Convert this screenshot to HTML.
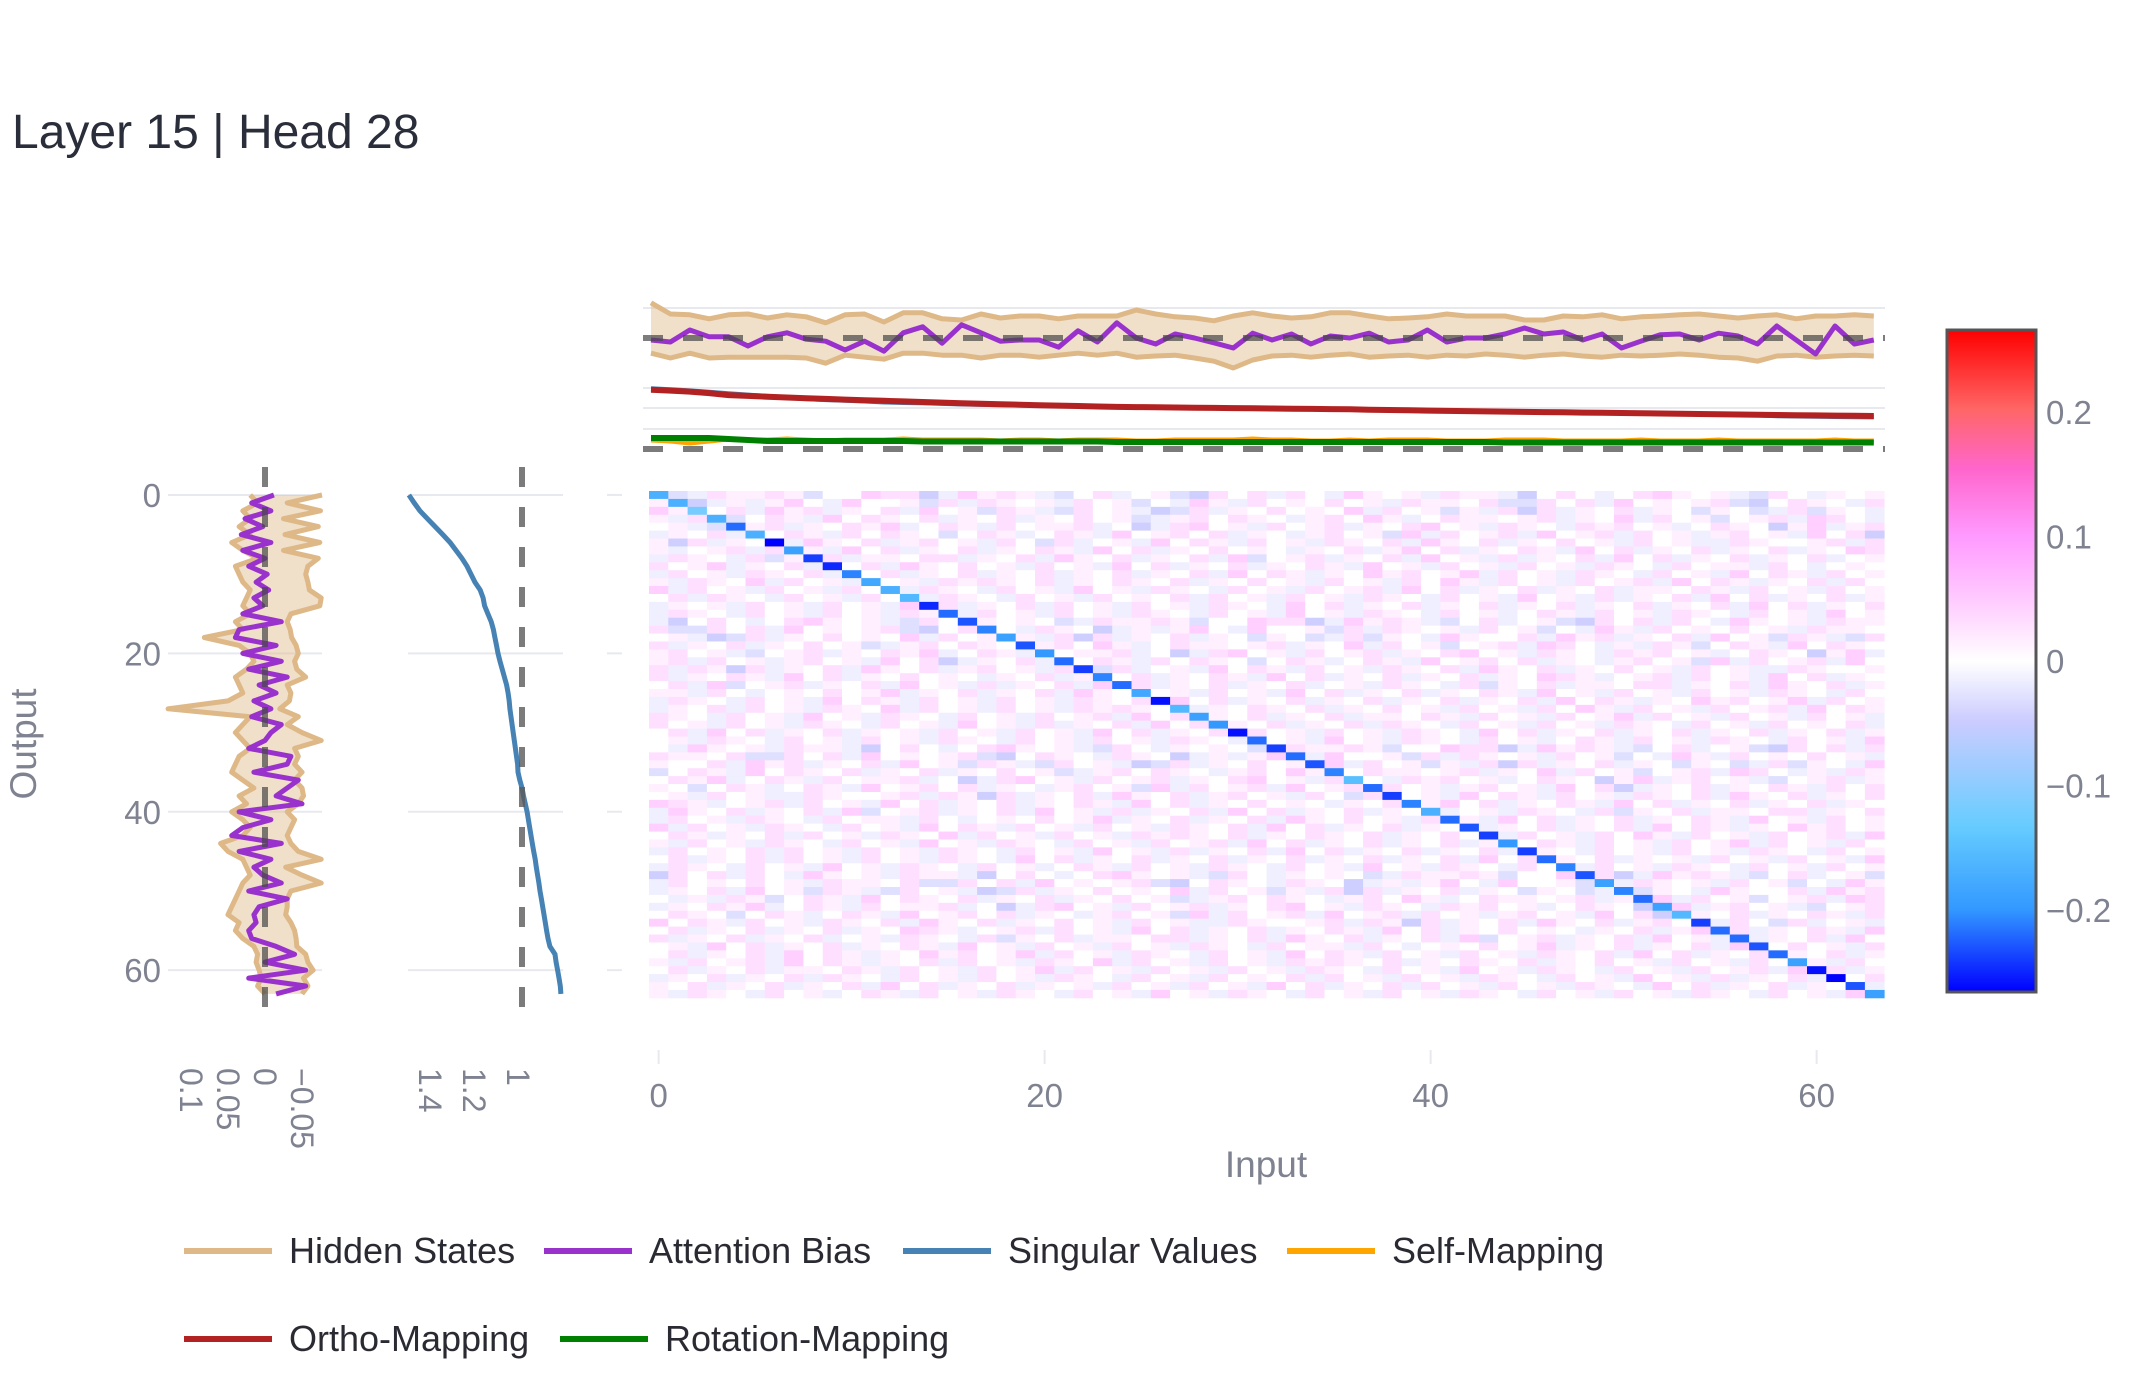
<!DOCTYPE html>
<html><head><meta charset="utf-8"><style>
html,body{margin:0;padding:0;background:#fff;}
svg{display:block;font-family:"Liberation Sans",sans-serif;}
</style></head><body>
<svg id="chart" width="2142" height="1380" viewBox="0 0 2142 1380" xmlns="http://www.w3.org/2000/svg">
<defs>
<linearGradient id="cbgrad" x1="0" y1="1" x2="0" y2="0">
<stop offset="0" stop-color="#0000ff"/><stop offset="0.125" stop-color="#3399ff"/><stop offset="0.25" stop-color="#66ccff"/><stop offset="0.33" stop-color="#99ccff"/><stop offset="0.41" stop-color="#ccccff"/><stop offset="0.5" stop-color="#ffffff"/><stop offset="0.59" stop-color="#ffccff"/><stop offset="0.69" stop-color="#ff99ff"/><stop offset="0.79" stop-color="#ff66cc"/><stop offset="0.88" stop-color="#ff6666"/><stop offset="1" stop-color="#ff0000"/>
</linearGradient>
</defs>
<text x="12" y="148" font-size="48" fill="#2a2d3a">Layer 15 | Head 28</text>
<g id="grid"></g>
<g id="heat"></g>
<g id="marks"></g>
<rect x="1947" y="330" width="89" height="662" fill="url(#cbgrad)" stroke="#555" stroke-width="3"/>
<g id="labels"></g>
<text x="1266" y="1177" font-size="37" fill="#7f8290" text-anchor="middle">Input</text>
<text x="36" y="744" font-size="37" fill="#7f8290" text-anchor="middle" transform="rotate(-90 36 744)">Output</text>
<g id="legend"></g>
</svg>
<script>
const diag=[-0.17,-0.17,-0.12,-0.17,-0.22,-0.17,-0.27,-0.19,-0.24,-0.25,-0.21,-0.18,-0.17,-0.16,-0.25,-0.22,-0.23,-0.21,-0.19,-0.23,-0.20,-0.22,-0.24,-0.21,-0.22,-0.18,-0.26,-0.16,-0.19,-0.20,-0.26,-0.22,-0.24,-0.22,-0.23,-0.21,-0.15,-0.22,-0.24,-0.21,-0.17,-0.22,-0.23,-0.24,-0.20,-0.24,-0.22,-0.21,-0.23,-0.19,-0.21,-0.22,-0.19,-0.16,-0.24,-0.22,-0.22,-0.23,-0.22,-0.19,-0.26,-0.27,-0.23,-0.19];
const offLevels=[-0.06,-0.045,-0.03,-0.015,0,0.015,0.03,0.045,0.06];
const offRows=[
"4236556524476613756532463452164636437545365531464346754532643545",
"5462264637454562146543654135357437445263654536452437536454645365",
"2362543754463756354637452653264531263546454736452536163546354254",
"4523564654356475346554563547364524563764353652465374654635463546",
"5645346541573564532456354657346536455634136745364563546745365436",
"6542465346537456463543564527364563745636453564537461354635465364",
"3654456365163546375463564536426345374653645365463754635464536453",
"5435463574635465374635463546354765345636453746354635465374635464",
"2546355466354637546354637245635463745363546374635463546345365436",
"3454645735463546375464536453746354635465374536453645365436455364",
"7564573645365436453746536453645365463746354635463546354637465354",
"6546354654635464536453647536453645637465354636453654736453645365",
"5465364536457364536453645365436453745365436453645637463546354635",
"4636453645365436453745363546374635463546365436453645365436453645",
"5364536453746354636453645365437463546354635463546354637463546354",
"4653645365436453745365436453645365436453645365436453745365436453"
];
const offRowShift=[0,23,7,41,15,52,9,33,58,4,27,47,12,38,61,19,44,2,30,55,13,36,6,49,21,59,10,40,26,3,51,17,34,62,8,45,24,1,57,31,14,48,5,37,20,60,11,43,28,53,16,39,22,63,35,18,46,25,50,29,56,32,42,54];
const topHiddenHi=[0.088,0.06,0.058,0.048,0.058,0.06,0.05,0.058,0.053,0.038,0.058,0.06,0.04,0.063,0.063,0.048,0.045,0.06,0.05,0.055,0.055,0.048,0.055,0.055,0.055,0.07,0.06,0.053,0.05,0.043,0.055,0.063,0.055,0.05,0.053,0.063,0.063,0.055,0.048,0.05,0.053,0.06,0.055,0.055,0.055,0.045,0.045,0.055,0.053,0.058,0.048,0.053,0.055,0.058,0.06,0.055,0.05,0.055,0.058,0.048,0.055,0.055,0.058,0.055];
const topHiddenLo=[-0.038,-0.05,-0.038,-0.05,-0.048,-0.048,-0.048,-0.048,-0.05,-0.063,-0.043,-0.048,-0.053,-0.038,-0.038,-0.043,-0.043,-0.05,-0.043,-0.043,-0.048,-0.043,-0.038,-0.043,-0.038,-0.048,-0.045,-0.043,-0.05,-0.058,-0.075,-0.055,-0.045,-0.043,-0.048,-0.043,-0.04,-0.048,-0.045,-0.043,-0.048,-0.043,-0.045,-0.04,-0.043,-0.048,-0.043,-0.04,-0.045,-0.048,-0.043,-0.045,-0.043,-0.04,-0.043,-0.048,-0.05,-0.058,-0.045,-0.043,-0.048,-0.045,-0.043,-0.045];
const topBias=[-0.005,-0.01,0.02,0.003,0.003,-0.02,0.003,0.013,-0.003,-0.008,-0.03,-0.008,-0.033,0.013,0.028,-0.013,0.033,0.013,-0.008,-0.005,-0.005,-0.023,0.018,-0.01,0.038,0.0,-0.015,0.01,0.0,-0.012,-0.025,0.012,-0.005,0.01,-0.015,0.005,0.0,0.012,-0.01,-0.005,0.02,-0.01,0.0,0.0,0.01,0.025,0.01,0.015,-0.005,0.01,-0.025,-0.008,0.008,0.01,-0.005,0.012,0.005,-0.015,0.03,-0.005,-0.04,0.03,-0.015,-0.005];
const singular=[1.514,1.49,1.464,1.43,1.395,1.36,1.327,1.30,1.273,1.25,1.232,1.214,1.19,1.177,1.17,1.155,1.14,1.13,1.123,1.116,1.109,1.10,1.09,1.08,1.07,1.063,1.058,1.055,1.05,1.045,1.04,1.035,1.03,1.025,1.02,1.018,1.01,1.0,0.993,0.985,0.977,0.971,0.965,0.959,0.953,0.947,0.94,0.935,0.929,0.923,0.918,0.912,0.906,0.9,0.894,0.888,0.882,0.873,0.85,0.845,0.838,0.832,0.826,0.823];
const ortho=[1.49,1.47,1.445,1.41,1.36,1.34,1.32,1.30,1.28,1.265,1.25,1.235,1.22,1.205,1.19,1.175,1.16,1.148,1.136,1.124,1.112,1.10,1.09,1.08,1.07,1.063,1.058,1.055,1.05,1.045,1.04,1.035,1.03,1.025,1.02,1.015,1.01,1.0,0.993,0.985,0.977,0.971,0.965,0.959,0.953,0.947,0.94,0.935,0.929,0.923,0.918,0.912,0.906,0.9,0.894,0.888,0.882,0.876,0.87,0.865,0.86,0.855,0.85,0.845];
const selfMap=[0.09,0.08,0.06,0.08,0.1,0.09,0.09,0.1,0.09,0.08,0.09,0.09,0.09,0.1,0.09,0.09,0.09,0.09,0.08,0.09,0.09,0.08,0.09,0.09,0.09,0.08,0.08,0.09,0.09,0.09,0.09,0.1,0.09,0.09,0.08,0.08,0.09,0.08,0.09,0.09,0.09,0.08,0.08,0.08,0.09,0.09,0.09,0.08,0.08,0.08,0.08,0.09,0.08,0.08,0.08,0.09,0.08,0.08,0.08,0.08,0.08,0.09,0.08,0.08];
const rotMap=[0.11,0.11,0.11,0.11,0.1,0.09,0.08,0.08,0.08,0.08,0.08,0.08,0.08,0.08,0.075,0.075,0.075,0.075,0.075,0.075,0.075,0.075,0.075,0.075,0.07,0.07,0.07,0.07,0.07,0.07,0.07,0.07,0.07,0.07,0.07,0.07,0.07,0.07,0.07,0.07,0.07,0.07,0.07,0.07,0.065,0.065,0.065,0.065,0.065,0.065,0.065,0.065,0.065,0.065,0.065,0.065,0.065,0.065,0.065,0.065,0.065,0.065,0.065,0.065];
const leftHiddenHi=[0.02,0.01,0.03,0.02,0.035,0.02,0.045,0.03,0.01,0.04,0.035,0.03,0.02,0.025,0.03,0.02,0.04,0.03,0.082,0.035,0.02,0.015,0.025,0.04,0.035,0.03,0.05,0.131,0.02,0.03,0.04,0.03,0.02,0.035,0.04,0.045,0.03,0.015,0.035,0.025,0.045,0.03,0.02,0.03,0.06,0.05,0.03,0.025,0.02,0.03,0.035,0.04,0.045,0.05,0.035,0.04,0.03,0.015,0.01,0.012,0.008,0.005,0.01,0.0];
const leftHiddenLo=[-0.077,-0.03,-0.075,-0.025,-0.072,-0.027,-0.074,-0.025,-0.072,-0.058,-0.055,-0.058,-0.06,-0.076,-0.074,-0.035,-0.03,-0.034,-0.036,-0.042,-0.045,-0.04,-0.043,-0.055,-0.03,-0.035,-0.033,-0.02,-0.045,-0.03,-0.05,-0.076,-0.04,-0.045,-0.04,-0.05,-0.04,-0.05,-0.052,-0.045,-0.03,-0.04,-0.035,-0.03,-0.035,-0.045,-0.076,-0.028,-0.05,-0.076,-0.035,-0.03,-0.03,-0.028,-0.035,-0.04,-0.042,-0.043,-0.055,-0.058,-0.065,-0.052,-0.058,-0.05];
const leftBias=[-0.012,0.018,-0.008,0.027,0.003,0.032,-0.008,0.03,0.0,0.022,-0.003,0.012,-0.005,0.015,0.003,0.03,-0.022,0.035,0.04,-0.015,0.03,-0.022,0.022,-0.03,0.008,-0.015,0.015,-0.008,0.018,-0.022,-0.008,0.0,0.022,-0.035,-0.03,0.015,-0.045,-0.03,-0.015,-0.05,0.035,-0.008,0.03,0.045,-0.022,0.035,-0.008,0.015,0.003,-0.022,0.022,-0.03,0.008,0.015,0.012,0.022,0.018,-0.015,-0.04,0.0,-0.055,0.022,-0.055,-0.015];
const xTicks=[0,20,40,60];
const yTicks=[0,20,40,60];
const leftTicks=[-0.05,0,0.05,0.1];
const leftTickLabels=["\u22120.05","0","0.05","0.1"];
const svTicks=[1,1.2,1.4];
const svTickLabels=["1","1.2","1.4"];
const cbTicks=[0.2,0.1,0,-0.1,-0.2];
const cbTickLabels=["0.2","0.1","0","\u22120.1","\u22120.2"];

const NS="http://www.w3.org/2000/svg";
function mk(tag,attrs,parent){const e=document.createElementNS(NS,tag);for(const k in attrs)e.setAttribute(k,attrs[k]);parent.appendChild(e);return e;}
const G=document.getElementById('grid'),H=document.getElementById('heat'),M=document.getElementById('marks'),L=document.getElementById('labels'),LG=document.getElementById('legend');
const hmLeft=649,hmTop=491,cw=19.3,rh=7.92;
const xCell=i=>hmLeft+i*cw, yCell=r=>hmTop+r*rh;
const xC=i=>hmLeft+(i+0.5)*cw, yC=r=>hmTop+(r+0.5)*rh;
const xTop=i=>651+i*19.41;
const yTop1=v=>338-v*400, yTop2=v=>450.3-v*40.6, yTop3=v=>449-v*100;
const xLeft=v=>265-v*740, xSv=v=>522-(v-1)*220;
const yCb=v=>661-v*1245;
const stops=[[0,[0,0,255]],[0.125,[51,153,255]],[0.25,[102,204,255]],[0.33,[153,204,255]],[0.41,[204,204,255]],[0.5,[255,255,255]],[0.59,[255,204,255]],[0.69,[255,153,255]],[0.79,[255,102,204]],[0.88,[255,102,102]],[1,[255,0,0]]];
function color(v){let t=(v+0.267)/0.534;t=Math.max(0,Math.min(1,t));for(let i=1;i<stops.length;i++){if(t<=stops[i][0]){const a=stops[i-1],b=stops[i];const f=(t-a[0])/(b[0]-a[0]);const c=a[1].map((x,k)=>Math.round(x+(b[1][k]-x)*f));return `rgb(${c[0]},${c[1]},${c[2]})`;}}return 'rgb(255,0,0)';}
[308,388,408,429].forEach(y=>{const l=mk('line',{x1:643,x2:1885,y1:y,y2:y,stroke:'#e8e9ef','stroke-width':2},G);

});
yTicks.forEach(r=>{const y=yC(r);
const a=mk('line',{x1:168,x2:322,y1:y,y2:y,stroke:'#e8e9ef','stroke-width':2},G);


const b=mk('line',{x1:408,x2:563,y1:y,y2:y,stroke:'#e8e9ef','stroke-width':2},G);


const c=mk('line',{x1:607,x2:622,y1:y,y2:y,stroke:'#e8e9ef','stroke-width':2},G);


const t=mk('text',{x:161,y:y+12,'font-size':33,fill:'#7f8290','text-anchor':'end'},L);t.textContent=r;

});
xTicks.forEach(i=>{const x=xC(i);
const m=mk('line',{x1:x,x2:x,y1:1050,y2:1064,stroke:'#e8e9ef','stroke-width':2},G);


const t=mk('text',{x:x,y:1107,'font-size':33,fill:'#7f8290','text-anchor':'middle'},L);t.textContent=i;

});
for(let r=0;r<64;r++){const row=offRows[r%offRows.length]||"";const sh=offRowShift[r]||0;for(let c=0;c<64;c++){let v;if(r===c)v=diag[r];else{const ch=row.charAt((c+sh)%64);const k=ch===''?4:parseInt(ch);v=offLevels[k];}
const rc=mk('rect',{x:xCell(c).toFixed(2),y:yCell(r).toFixed(2),width:(cw+0.4).toFixed(2),height:(rh+0.4).toFixed(2),fill:color(v)},H);

}}
function poly(pts){return pts.map(p=>p[0].toFixed(1)+','+p[1].toFixed(1)).join(' ');}
const topBandPts=topHiddenHi.map((v,i)=>[xTop(i),yTop1(v)]).concat(topHiddenLo.map((v,i)=>[xTop(i),yTop1(v)]).reverse());
let e=mk('polygon',{points:poly(topBandPts),fill:'rgba(222,184,135,0.45)',stroke:'none'},M);


e=mk('polyline',{points:poly(topHiddenHi.map((v,i)=>[xTop(i),yTop1(v)])),fill:'none',stroke:'#deb887','stroke-width':5,'stroke-linejoin':'round'},M);


e=mk('polyline',{points:poly(topHiddenLo.map((v,i)=>[xTop(i),yTop1(v)])),fill:'none',stroke:'#deb887','stroke-width':5,'stroke-linejoin':'round'},M);


e=mk('polyline',{points:poly(topBias.map((v,i)=>[xTop(i),yTop1(v)])),fill:'none',stroke:'#9932cc','stroke-width':5,'stroke-linejoin':'round'},M);


e=mk('line',{x1:643,x2:1885,y1:yTop1(0),y2:yTop1(0),stroke:'rgba(70,70,70,0.7)','stroke-width':6,'stroke-dasharray':'20 20'},M);


e=mk('polyline',{points:poly(singular.map((v,i)=>[xTop(i),yTop2(v)])),fill:'none',stroke:'#4682b4','stroke-width':5},M);


e=mk('polyline',{points:poly(ortho.map((v,i)=>[xTop(i),yTop2(v)])),fill:'none',stroke:'#b22222','stroke-width':6},M);


e=mk('polyline',{points:poly(selfMap.map((v,i)=>[xTop(i),yTop3(v)])),fill:'none',stroke:'#ffa500','stroke-width':5},M);


e=mk('polyline',{points:poly(rotMap.map((v,i)=>[xTop(i),yTop3(v)])),fill:'none',stroke:'#008000','stroke-width':6},M);


e=mk('line',{x1:643,x2:1885,y1:yTop3(0),y2:yTop3(0),stroke:'rgba(90,90,90,0.8)','stroke-width':6,'stroke-dasharray':'20 20'},M);


const leftBandPts=leftHiddenHi.map((v,r)=>[xLeft(v),yC(r)]).concat(leftHiddenLo.map((v,r)=>[xLeft(v),yC(r)]).reverse());
e=mk('polygon',{points:poly(leftBandPts),fill:'rgba(222,184,135,0.45)',stroke:'none'},M);


e=mk('polyline',{points:poly(leftHiddenHi.map((v,r)=>[xLeft(v),yC(r)])),fill:'none',stroke:'#deb887','stroke-width':5,'stroke-linejoin':'round'},M);


e=mk('polyline',{points:poly(leftHiddenLo.map((v,r)=>[xLeft(v),yC(r)])),fill:'none',stroke:'#deb887','stroke-width':5,'stroke-linejoin':'round'},M);


e=mk('polyline',{points:poly(leftBias.map((v,r)=>[xLeft(v),yC(r)])),fill:'none',stroke:'#9932cc','stroke-width':5,'stroke-linejoin':'round'},M);


e=mk('line',{x1:xLeft(0),x2:xLeft(0),y1:467,y2:1022,stroke:'rgba(70,70,70,0.7)','stroke-width':6,'stroke-dasharray':'20 20'},M);


e=mk('polyline',{points:poly(singular.map((v,r)=>[xSv(v),yC(r)])),fill:'none',stroke:'#4682b4','stroke-width':5},M);


e=mk('line',{x1:xSv(1),x2:xSv(1),y1:467,y2:1022,stroke:'rgba(90,90,90,0.8)','stroke-width':6,'stroke-dasharray':'20 20'},M);


leftTicks.forEach((v,i)=>{const x=xLeft(v),y=1068;const t=mk('text',{x:x,y:y,'font-size':32,fill:'#7f8290','dominant-baseline':'central',transform:`rotate(90 ${x} ${y})`},L);t.textContent=leftTickLabels[i];

});
svTicks.forEach((v,i)=>{const x=xSv(v)-4,y=1068;const t=mk('text',{x:x,y:y,'font-size':32,fill:'#7f8290','dominant-baseline':'central',transform:`rotate(90 ${x} ${y})`},L);t.textContent=svTickLabels[i];

});
cbTicks.forEach((v,i)=>{const t=mk('text',{x:2046,y:yCb(v)+12,'font-size':33,fill:'#7f8290'},L);t.textContent=cbTickLabels[i];

});
const legItems=[["Hidden States","#deb887",184,1251],["Attention Bias","#9932cc",544,1251],["Singular Values","#4682b4",903,1251],["Self-Mapping","#ffa500",1287,1251],["Ortho-Mapping","#b22222",184,1339],["Rotation-Mapping","#008000",560,1339]];
legItems.forEach(it=>{const g=mk('g',{},LG);


mk('line',{x1:it[2],x2:it[2]+88,y1:it[3],y2:it[3],stroke:it[1],'stroke-width':6},g);
const t=mk('text',{x:it[2]+105,y:it[3]+12,'font-size':36,fill:'#2a2a33'},g);t.textContent=it[0];});
</script>
</body></html>
